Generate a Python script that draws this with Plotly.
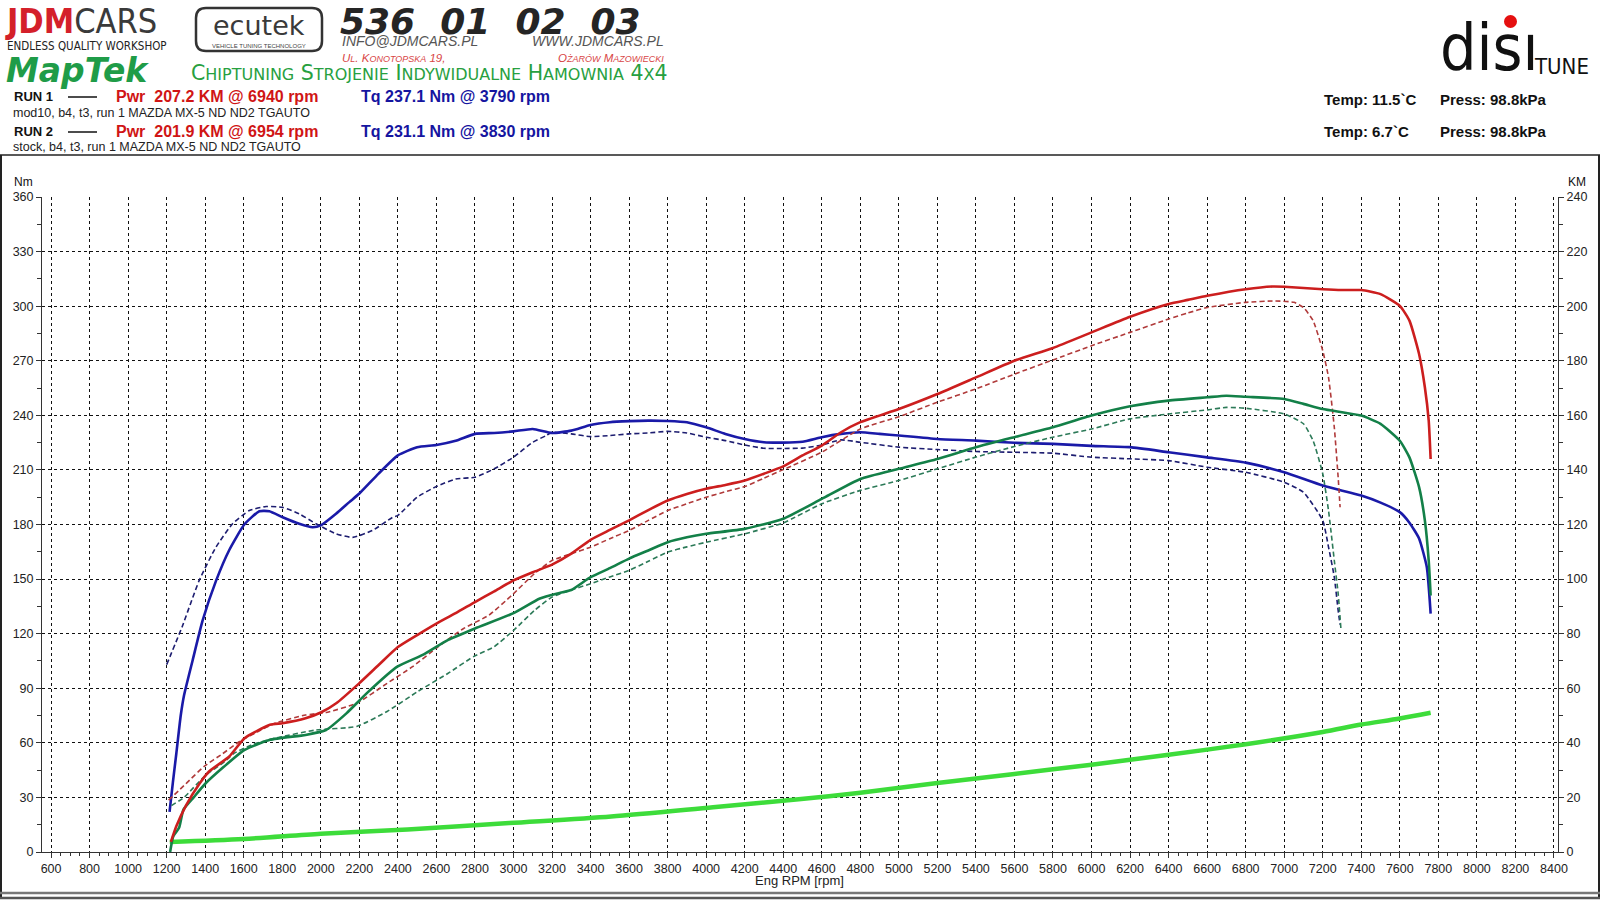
import plotly.graph_objects as go

# ---- data ----
# torque [Nm], left axis
tq1_rpm = [1215, 1232, 1250, 1273, 1290, 1334, 1386, 1456, 1525, 1603, 1681, 1733, 1802, 1888, 1957,
           2000, 2079, 2148, 2200, 2300, 2400, 2500, 2600, 2700, 2800, 2900, 3000, 3100, 3200, 3300,
           3400, 3500, 3600, 3700, 3800, 3900, 4000, 4100, 4200, 4300, 4400, 4500, 4600, 4700, 4800,
           4900, 5000, 5200, 5400, 5600, 5800, 6000, 6200, 6400, 6600, 6800, 7000, 7200, 7400, 7500,
           7600, 7650, 7700, 7740, 7760]
tq1_nm = [22, 38, 54, 75, 86, 105, 127, 149, 166, 180, 187.3, 187.3, 184, 180.4, 178.5,
          179.5, 185.9, 192.3, 197, 208, 218, 222.5, 223.7, 226, 229.8, 230.3, 231.2, 232.5, 230.3, 231.6,
          234.7, 236.2, 236.8, 237.1, 236.9, 236.2, 233.4, 229.8, 227, 225.2, 225, 225.5, 228, 229.8, 230.7,
          229.8, 228.9, 227, 226.1, 224.9, 224.3, 223.2, 222.5, 219.7, 216.9, 214, 208.7, 201.4, 195.9, 192,
          186.8, 181, 172.3, 156.6, 131]

tq2_rpm = [1200, 1280, 1369, 1456, 1542, 1629, 1716, 1802, 1888, 1975, 2079, 2165, 2268, 2372, 2400,
           2500, 2600, 2700, 2800, 2900, 3000, 3100, 3170, 3200, 3300, 3400, 3500, 3600, 3700, 3800,
           3900, 4000, 4100, 4200, 4300, 4400, 4500, 4600, 4700, 4800, 5000, 5200, 5400, 5600, 5800,
           6000, 6200, 6400, 6600, 6800, 7000, 7100, 7200, 7230, 7260, 7280, 7290]
tq2_nm = [103, 123.7, 149.3, 167.6, 180.4, 187.7, 189.9, 189.4, 185.9, 180.4, 174.9, 172.9, 176.7, 183.9, 185,
          195, 200.9, 205, 206, 210.6, 217, 225.2, 228.9, 230.7, 229.8, 228.3, 228.9, 229.8, 230.3, 231.2,
          230.3, 228, 226.1, 223.7, 221.9, 221.8, 222, 223.7, 226.5, 225.2, 222.5, 221.2, 220.1, 219.7, 219.2,
          217, 216.1, 215.1, 211.5, 208.7, 203.2, 197.7, 182.2, 167.6, 151.1, 132.8, 125]

# engine power [KM], right axis
pw1_rpm = [1222, 1250, 1300, 1370, 1420, 1525, 1604, 1736, 1802, 1921, 2000, 2080, 2199, 2300, 2400,
           2500, 2600, 2700, 2800, 2900, 3000, 3100, 3200, 3300, 3400, 3500, 3600, 3700, 3800, 3900,
           4000, 4100, 4200, 4300, 4400, 4500, 4600, 4700, 4800, 5000, 5200, 5400, 5600, 5800, 6000,
           6200, 6400, 6500, 6600, 6800, 6940, 7000, 7200, 7300, 7400, 7500, 7600, 7650, 7700, 7730,
           7750, 7760]
pw1_km = [3.7, 9.4, 17, 25, 29.5, 35, 41.7, 46.6, 47.2, 49, 51.1, 54.5, 61.8, 68.5, 75.1,
          79.5, 83.7, 87.5, 91.6, 95.5, 99.5, 102.5, 105.3, 109.3, 114.4, 118, 121.5, 125.3, 128.8, 131.2,
          133.1, 134.5, 136.1, 138.6, 141.3, 145.3, 148.9, 153.8, 157.5, 162.3, 167.8, 173.9, 180, 184.7, 190.4,
          196.1, 200.8, 202.3, 203.8, 206.2, 207.2, 207.1, 206.2, 205.9, 205.9, 204.4, 200.1, 194.7, 182.5, 170.3,
          158.1, 144]

pw2_rpm = [1210, 1300, 1393, 1490, 1578, 1670, 1763, 1921, 2027, 2186, 2344, 2476, 2608, 2741, 2873,
           2992, 3110, 3200, 3300, 3400, 3500, 3600, 3700, 3800, 3900, 4000, 4100, 4200, 4300, 4400,
           4600, 4800, 5000, 5200, 5400, 5600, 5800, 6000, 6200, 6400, 6500, 6600, 6800, 6954, 7050,
           7100, 7150, 7200, 7230, 7260, 7280, 7290]
pw2_km = [19, 25, 31.3, 36, 40.5, 44, 47.2, 50.2, 51.1, 54.5, 61.8, 67.9, 75.2, 81.9, 86.8,
          94.1, 102.1, 106.8, 109.3, 111.7, 114.8, 117.8, 121.5, 125.1, 127.6, 130, 132, 133.9, 137, 140.1,
          146.5, 155, 159.5, 164.8, 169.7, 175.1, 180.3, 185.5, 190.4, 195.3, 197.5, 199.5, 201.4, 201.9, 201.4,
          199.5, 194.7, 183.7, 173.9, 155.6, 137.3, 126.3]

# wheel power [KM], right axis
wh1_rpm = [1218, 1234, 1265, 1287, 1340, 1400, 1498, 1604, 1736, 1921, 2027, 2133, 2239, 2397, 2529,
           2661, 2800, 3000, 3137, 3243, 3300, 3400, 3500, 3600, 3700, 3800, 3900, 4000, 4200, 4400,
           4600, 4800, 5000, 5200, 5400, 5600, 5800, 6000, 6200, 6400, 6600, 6700, 6800, 7000, 7100,
           7200, 7300, 7400, 7500, 7600, 7650, 7700, 7730, 7750, 7760]
wh1_km = [0, 5.7, 9, 15.5, 20, 25, 31.3, 37.4, 41.1, 42.9, 44.7, 50.8, 58.2, 67.9, 72.2,
          77.7, 81.9, 87.5, 92.9, 95, 96, 100.7, 104, 107.5, 110.5, 113.5, 115.3, 116.6, 118.4, 122.1,
          129.4, 136.7, 140.4, 144, 148.3, 152, 155.6, 159.9, 163.3, 165.4, 166.6, 167.2, 166.8, 166, 164.2,
          162.3, 161.1, 159.9, 156.9, 150.7, 144.6, 133.7, 121.5, 106.8, 94]

wh2_rpm = [1225, 1290, 1400, 1500, 1551, 1650, 1763, 1974, 2186, 2344, 2503, 2661, 2793, 2899, 3005,
           3110, 3200, 3300, 3400, 3500, 3600, 3700, 3800, 3900, 4000, 4200, 4400, 4600, 4800, 5000,
           5200, 5400, 5600, 5800, 6000, 6200, 6400, 6600, 6700, 6800, 7000, 7100, 7150, 7200, 7230,
           7260, 7280, 7295]
wh2_km = [17, 20, 28, 33, 36.2, 39.5, 41.7, 44.7, 46, 51.5, 58.8, 65.5, 71.6, 75.2, 81.5,
          88.6, 93.4, 96, 98.3, 100.8, 103.2, 106.5, 109.9, 111.8, 113.5, 116.6, 120.6, 127.6, 132.5, 136.1,
          140.4, 144.7, 148.6, 152, 155, 158.7, 160.5, 162, 162.9, 162.6, 160.5, 156.9, 150.7, 138.6, 125.1,
          106.8, 94.7, 81.2]

# drivetrain loss [KM]
loss_rpm = [1216, 1600, 2000, 2450, 2978, 3507, 4036, 4480, 4800, 5200, 5600, 6000, 6400, 6800, 7200,
            7400, 7600, 7760]
loss_km = [3.7, 4.8, 6.7, 8.2, 10.6, 13, 16.4, 19.3, 21.7, 25.3, 28.6, 32, 35.6, 39.5, 44,
           46.7, 48.9, 51]

rpm_ticks = list(range(600, 8401, 200))
nm_ticks = list(range(0, 361, 30))
km_ticks = list(range(0, 241, 20))

# ---- page geometry (pixels of the 1600x900 page) ----
L, R, T, B = 42, 1558, 197, 852
W, H = R - L, B - T


def px(x):
    return (x - L) / W


def py(y):
    return (B - y) / H


NARROW = "DejaVu Sans Condensed, Liberation Sans Narrow, Liberation Sans, Arial"
SANS = "Liberation Sans, Arial"

fig = go.Figure()

fig.add_trace(go.Scatter(x=loss_rpm, y=loss_km, yaxis="y2", mode="lines", name="loss",
                         line=dict(color="#3ddc3a", width=4.5, shape="spline", smoothing=0.8)))
fig.add_trace(go.Scatter(x=wh2_rpm, y=wh2_km, yaxis="y2", mode="lines", name="wheel run 2",
                         line=dict(color="#2c7a58", width=1.6, dash="5px,3px", shape="spline", smoothing=0.5)))
fig.add_trace(go.Scatter(x=pw2_rpm, y=pw2_km, yaxis="y2", mode="lines", name="pwr run 2",
                         line=dict(color="#b03a3a", width=1.6, dash="5px,3px", shape="spline", smoothing=0.5)))
fig.add_trace(go.Scatter(x=tq2_rpm, y=tq2_nm, mode="lines", name="tq run 2",
                         line=dict(color="#1d1d70", width=1.6, dash="5px,3px", shape="spline", smoothing=0.5)))
fig.add_trace(go.Scatter(x=wh1_rpm, y=wh1_km, yaxis="y2", mode="lines", name="wheel run 1",
                         line=dict(color="#138048", width=2.6, shape="spline", smoothing=0.5)))
fig.add_trace(go.Scatter(x=pw1_rpm, y=pw1_km, yaxis="y2", mode="lines", name="pwr run 1",
                         line=dict(color="#cc1e1e", width=2.6, shape="spline", smoothing=0.5)))
fig.add_trace(go.Scatter(x=tq1_rpm, y=tq1_nm, mode="lines", name="tq run 1",
                         line=dict(color="#1a1aa8", width=2.6, shape="spline", smoothing=0.5)))

grid = dict(showgrid=True, gridcolor="#111111", gridwidth=1, griddash="3px,3px")
fig.update_layout(
    width=1600, height=900,
    margin=dict(l=L, r=1600 - R, t=T, b=900 - B),
    paper_bgcolor="white", plot_bgcolor="white",
    showlegend=False,
    font=dict(family=SANS, color="#222"),
    xaxis=dict(range=[553, 8421], tickvals=rpm_ticks, ticks="outside", ticklen=5, tickcolor="#333",
               showline=True, linecolor="#333", linewidth=1, zeroline=False,
               tickfont=dict(family=SANS, size=12.5, color="#222"),
               minor=dict(dtick=50, tick0=600, ticks="outside", ticklen=3, tickcolor="#333", showgrid=False),
               **grid),
    yaxis=dict(range=[0, 360], tickvals=nm_ticks, ticks="outside", ticklen=5, tickcolor="#333",
               showline=True, linecolor="#333", linewidth=1, zeroline=False,
               tickfont=dict(family=SANS, size=12.5, color="#222"),
               minor=dict(dtick=15, ticks="outside", ticklen=4, tickcolor="#333", showgrid=False),
               **grid),
    yaxis2=dict(range=[0, 240], tickvals=km_ticks, overlaying="y", side="right",
                ticks="outside", ticklen=5, tickcolor="#333", showgrid=False,
                showline=True, linecolor="#333", linewidth=1, zeroline=False,
                tickfont=dict(family=SANS, size=12.5, color="#222"),
                minor=dict(dtick=10, ticks="outside", ticklen=4, tickcolor="#333")),
)

ann = []


def text(x, y, s, size, color="#111", family=SANS, anchor="left"):
    ann.append(dict(x=px(x), y=py(y), xref="paper", yref="paper", text=s, showarrow=False,
                    xanchor=anchor, yanchor="middle", font=dict(size=size, color=color, family=family)))


# header: logos
text(3, 21, "<b><span style='color:#d4202a'>JDM</span></b><span style='color:#3a3a3a'>CARS</span>",
     34, family=NARROW)
text(5, 46, "ENDLESS QUALITY WORKSHOP", 11.5, "#222", NARROW)
text(259, 25, "ecutek", 27, "#3a3a3a", "DejaVu Sans", "center")
text(259, 46, "VEHICLE TUNING TECHNOLOGY", 6, "#444", SANS, "center")
text(338, 21, "<b><i>536  01  02  03</i></b>", 36, "#252525", "DejaVu Sans")
text(340, 41, "<i>INFO@JDMCARS.PL</i>", 14, "#555", SANS)
text(666, 41, "<i>WWW.JDMCARS.PL</i>", 14, "#555", SANS, "right")
text(340, 58, "<i>U<span style='font-size:9px'>L</span>. K<span style='font-size:9px'>ONOTOPSKA</span> 19,</i>",
     11.5, "#d84545", SANS)
text(666, 58, "<i>O<span style='font-size:9px'>ŻARÓW</span> M<span style='font-size:9px'>AZOWIECKI</span></i>",
     11.5, "#d84545", SANS, "right")
text(4, 71, "<b><i>MapTek</i></b>", 33, "#1f9c48", "DejaVu Sans")
small = "font-size:16px"
text(189, 73, ("C<span style='%s'>HIPTUNING</span> S<span style='%s'>TROJENIE</span> "
               "I<span style='%s'>NDYWIDUALNE</span> H<span style='%s'>AMOWNIA</span> 4<span style='%s'>X</span>4")
     % (small, small, small, small, small), 20.5, "#27a040", "DejaVu Sans")
text(1438, 48, "dis\u0131", 64, "#111", NARROW)
text(1532, 66, "TUNE", 22, "#111", NARROW)

# header: run info
text(12, 97, "<b>RUN 1</b>", 13, "#111")
text(114, 97, "<b>Pwr  207.2 KM @ 6940 rpm</b>", 16, "#d01515")
text(359, 97, "<b>Tq 237.1 Nm @ 3790 rpm</b>", 16, "#1515a0")
text(11, 113, "mod10, b4, t3, run 1 MAZDA MX-5 ND ND2 TGAUTO", 12.5, "#222")
text(12, 132, "<b>RUN 2</b>", 13, "#111")
text(114, 132, "<b>Pwr  201.9 KM @ 6954 rpm</b>", 16, "#d01515")
text(359, 132, "<b>Tq 231.1 Nm @ 3830 rpm</b>", 16, "#1515a0")
text(11, 147, "stock, b4, t3, run 1 MAZDA MX-5 ND ND2 TGAUTO", 12.5, "#222")
text(1322, 99, "<b>Temp: 11.5`C</b>", 15, "#111")
text(1438, 99, "<b>Press: 98.8kPa</b>", 15, "#111")
text(1322, 132, "<b>Temp: 6.7`C</b>", 15, "#111")
text(1438, 132, "<b>Press: 98.8kPa</b>", 15, "#111")

# axis captions
text(23, 182, "Nm", 12, "#111", SANS, "center")
text(1577, 182, "KM", 12, "#111", SANS, "center")
text(799, 880, "Eng RPM [rpm]", 13, "#222", SANS, "center")

fig.update_layout(annotations=ann)

shapes = []


def hline(x0, x1, y, color="#111", width=1.5):
    shapes.append(dict(type="line", xref="paper", yref="paper", x0=px(x0), x1=px(x1), y0=py(y), y1=py(y),
                       line=dict(color=color, width=width)))


def vline(x, y0, y1, color="#111", width=1.5):
    shapes.append(dict(type="line", xref="paper", yref="paper", x0=px(x), x1=px(x), y0=py(y0), y1=py(y1),
                       line=dict(color=color, width=width)))


hline(0, 1600, 155, "#222", 1.5)
vline(1, 155, 898, "#222", 2)
vline(1599, 155, 898, "#222", 2)
hline(0, 1600, 893, "#777", 2.5)
hline(0, 1600, 898, "#555", 2.5)
hline(68, 97, 97, "#111", 1.5)
hline(68, 97, 132, "#111", 1.5)

# ecutek rounded frame
x0, x1, y0, y1, r = px(196), px(322), py(8), py(51), 10
rx, ry = r / W, r / H
path = (f"M {x0 + rx},{y0} L {x1 - rx},{y0} Q {x1},{y0} {x1},{y0 - ry} L {x1},{y1 + ry} "
        f"Q {x1},{y1} {x1 - rx},{y1} L {x0 + rx},{y1} Q {x0},{y1} {x0},{y1 + ry} L {x0},{y0 - ry} "
        f"Q {x0},{y0} {x0 + rx},{y0} Z")
shapes.append(dict(type="path", xref="paper", yref="paper", path=path, line=dict(color="#333", width=2.5)))

# red dot of the disi logo
shapes.append(dict(type="circle", xref="paper", yref="paper", x0=px(1504), x1=px(1517), y0=py(15), y1=py(28),
                   fillcolor="#e51010", line=dict(color="#e51010", width=0)))

fig.update_layout(shapes=shapes)

# the page's default 8px body margin would push the sheet off the window
fig.write_html("out.html", config={"displayModeBar": False},
               post_script="document.body.style.margin='0px';")
